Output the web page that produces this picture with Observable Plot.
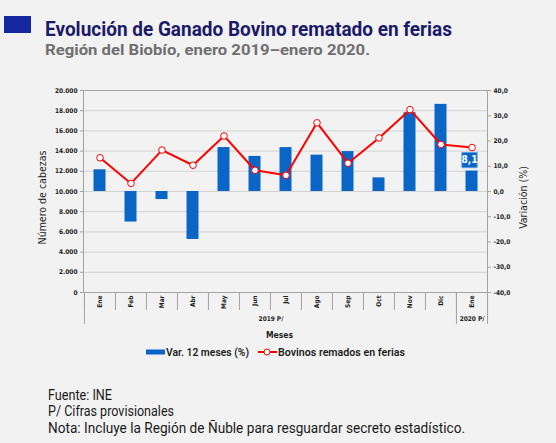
<!DOCTYPE html>
<html lang="es">
<head>
<meta charset="utf-8">
<script src="https://cdn.jsdelivr.net/npm/d3@7"></script>
<script src="https://cdn.jsdelivr.net/npm/@observablehq/plot@0.6"></script>
<style>
  html, body { margin:0; padding:0; background:#f2f2f2; }
  #page { position:relative; width:556px; height:443px; overflow:hidden; background:#f2f2f2; }
  #overlay { position:absolute; left:0; top:0; }
  #chart { position:absolute; left:0; top:80px; }
</style>
</head>
<body>
<div id="page"><svg id="overlay" width="556" height="443"></svg><div id="chart"></div></div>
<script>
// ---- data ----
const months = ["Ene","Feb","Mar","Abr","May","Jun","Jul","Ago","Sep","Oct","Nov","Dic","Ene"];
const years = [2019,2019,2019,2019,2019,2019,2019,2019,2019,2019,2019,2019,2020];
const variacion = [8.6, -12.1, -3.2, -19.0, 17.4, 13.9, 17.4, 14.4, 15.8, 5.4, 31.2, 34.5, 8.1];
const bovinos = [13340, 10800, 14100, 12600, 15500, 12100, 11600, 16800, 12800, 15300, 18100, 14650, 14350];
const leftTicks = [0, 2000, 4000, 6000, 8000, 10000, 12000, 14000, 16000, 18000, 20000];
const rightTicks = [-40, -30, -20, -10, 0, 10, 20, 30, 40];
const groupLabels = ["2019 P/", "2020 P/"];
const seriesNames = ["Var. 12 meses (%)", "Bovinos remados en ferias"];
const titleText = "Evolución de Ganado Bovino rematado en ferias";
const subtitleText = "Región del Biobío, enero 2019–enero 2020.";
const notes = ["Fuente: INE", "P/ Cifras provisionales", "Nota: Incluye la Región de Ñuble para resguardar secreto estadístico."];
const xTitle = "Meses";
const yLeftTitle = "Número de cabezas";
const yRightTitle = "Variación (%)";

// ---- helpers ----
const loc = d3.formatLocale({decimal: ",", thousands: ".", grouping: [3], currency: ["$", ""], minus: "-"});
const fmtNum = loc.format(",");
const fmtPct = loc.format(".1f");

const keys = months.map((m, i) => `${m} ${years[i]}`);
const rows = keys.map((k, i) => ({key: k, month: months[i], year: years[i], var: variacion[i], bov: bovinos[i]}));
const monthOf = new Map(rows.map(r => [r.key, r.month]));

// secondary axis: -40..40 % mapped onto 0..20.000
const yMax = leftTicks[leftTicks.length - 1];
const pMax = rightTicks[rightTicks.length - 1];
const toY = p => (p + pMax) / (2 * pMax) * yMax;
const fromY = v => v / yMax * 2 * pMax - pMax;

const W = 556, H = 285, ML = 83, MR = 69, MT = 10, MB = 73;
const bw = (W - ML - MR) / keys.length;

const BLUE = "#0a66c6", RED = "#ff0000", AXIS = "#a3a3a3", GRID = "#d2d2d2", INK = "#1e1e1e";
const FONT = "'Liberation Sans Narrow','DejaVu Sans Condensed',Roboto,sans-serif";

const groups = d3.groups(rows, d => d.year);
const last = rows[rows.length - 1];

const marks = [
  Plot.gridY({ticks: leftTicks, stroke: GRID, strokeOpacity: 1}),
  Plot.barY(rows, {x: "key", y1: () => toY(0), y2: d => toY(d.var), fill: BLUE, insetLeft: 9.5, insetRight: 9.5}),
  Plot.frame({stroke: AXIS}),
  Plot.line(rows, {x: "key", y: "bov", stroke: RED, strokeWidth: 2}),
  Plot.dot(rows, {x: "key", y: "bov", r: 3.3, fill: "white", stroke: RED, strokeWidth: 1}),
  Plot.dot([last], {x: "key", y: d => toY(d.var), symbol: "square", r: 8.6, fill: BLUE, stroke: "#5a9be0", strokeWidth: 1, dx: -2.5, dy: -11}),
  Plot.text([last], {x: "key", y: d => toY(d.var), text: d => fmtPct(d.var), fill: "white", fontWeight: "bold", fontSize: 10, dx: -2.5, dy: -11}),
  Plot.axisY({anchor: "left", ticks: leftTicks, tickFormat: fmtNum, tickSize: 3, tickPadding: 3, fontWeight: "bold", fontSize: 6.5, stroke: AXIS, fill: INK, label: null}),
  Plot.axisY({anchor: "right", ticks: rightTicks.map(toY), tickFormat: v => fmtPct(fromY(v)), tickSize: 3, tickPadding: 3, fontWeight: "bold", fontSize: 6.5, stroke: AXIS, fill: INK, label: null}),
  Plot.axisX({ticks: keys, tickFormat: k => monthOf.get(k), tickRotate: -90, tickSize: 0, tickPadding: 3, fontWeight: "bold", fontSize: 6.5, fill: INK, label: null}),
  Plot.axisX({ticks: keys, tickSize: 18, tickFormat: () => "", dx: -bw / 2, stroke: AXIS, label: null}),
  Plot.axisX({ticks: groups.map(g => g[1][0].key), tickSize: 32, tickFormat: () => "", dx: -bw / 2, stroke: AXIS, label: null}),
  Plot.axisX({ticks: [last.key], tickSize: 32, tickFormat: () => "", dx: bw / 2, stroke: AXIS, label: null}),
  ...groups.map(([yr, rs], gi) => Plot.text([rs[0]], {x: "key", text: () => groupLabels[gi], frameAnchor: "bottom", textAnchor: "middle", lineAnchor: "middle", dy: 26, dx: (rs.length - 1) * bw / 2, fontWeight: "bold", fontSize: 6.5, fill: INK})),
  Plot.text([xTitle], {text: d => d, frameAnchor: "bottom", textAnchor: "middle", lineAnchor: "middle", dy: 43, dx: -6, fontWeight: "bold", fontSize: 8.5, fill: INK}),
  Plot.text([yLeftTitle], {text: d => d, frameAnchor: "left", textAnchor: "middle", lineAnchor: "middle", rotate: -90, dx: -41, dy: 6, fontSize: 10.5, fill: INK}),
  Plot.text([yRightTitle], {text: d => d, frameAnchor: "right", textAnchor: "middle", lineAnchor: "middle", rotate: -90, dx: 36, dy: 6, fontSize: 10.5, fill: INK})
];

const chart = Plot.plot({
  width: W, height: H,
  marginLeft: ML, marginRight: MR, marginTop: MT, marginBottom: MB,
  style: {background: "transparent", fontFamily: FONT, fontSize: "6.5px", color: INK},
  x: {type: "band", domain: keys, padding: 0},
  y: {domain: [0, yMax]},
  marks
});
document.getElementById("chart").appendChild(chart);

// ---- title, legend, notes ----
const ov = d3.select("#overlay");
ov.append("rect").attr("x", 4).attr("y", 16).attr("width", 27).attr("height", 17).attr("fill", "#1428a0");
ov.append("text").attr("x", 45).attr("y", 35.5)
  .attr("font-family", "Roboto, sans-serif").attr("font-weight", 700).attr("font-size", 20)
  .attr("fill", "#1b1a6b").attr("textLength", 407).attr("lengthAdjust", "spacingAndGlyphs").text(titleText);
ov.append("text").attr("x", 45).attr("y", 54.5)
  .attr("font-family", "Roboto, sans-serif").attr("font-weight", 700).attr("font-size", 14)
  .attr("fill", "#6f6f6f").attr("textLength", 325).attr("lengthAdjust", "spacingAndGlyphs").text(subtitleText);

// legend
const lg = ov.append("g").attr("font-family", "Roboto, sans-serif").attr("font-size", 10).attr("font-weight", 600).attr("fill", INK);
lg.append("rect").attr("x", 146).attr("y", 349.5).attr("width", 19).attr("height", 5).attr("fill", BLUE);
lg.append("text").attr("x", 166).attr("y", 356).attr("textLength", 83).attr("lengthAdjust", "spacingAndGlyphs").text(seriesNames[0]);
lg.append("line").attr("x1", 258).attr("x2", 277).attr("y1", 352).attr("y2", 352).attr("stroke", RED).attr("stroke-width", 2);
lg.append("circle").attr("cx", 267).attr("cy", 352).attr("r", 3).attr("fill", "white").attr("stroke", RED).attr("stroke-width", 1);
lg.append("text").attr("x", 278).attr("y", 356).attr("textLength", 127).attr("lengthAdjust", "spacingAndGlyphs").text(seriesNames[1]);

// notes
const noteWidths = [64, 126, 417];
notes.forEach((t, i) => {
  ov.append("text").attr("x", 48).attr("y", 399.5 + i * 16.5)
    .attr("font-family", "Roboto, sans-serif").attr("font-size", 14).attr("fill", "#1a1a1a")
    .attr("textLength", noteWidths[i]).attr("lengthAdjust", "spacingAndGlyphs").text(t);
});
</script>
</body>
</html>
